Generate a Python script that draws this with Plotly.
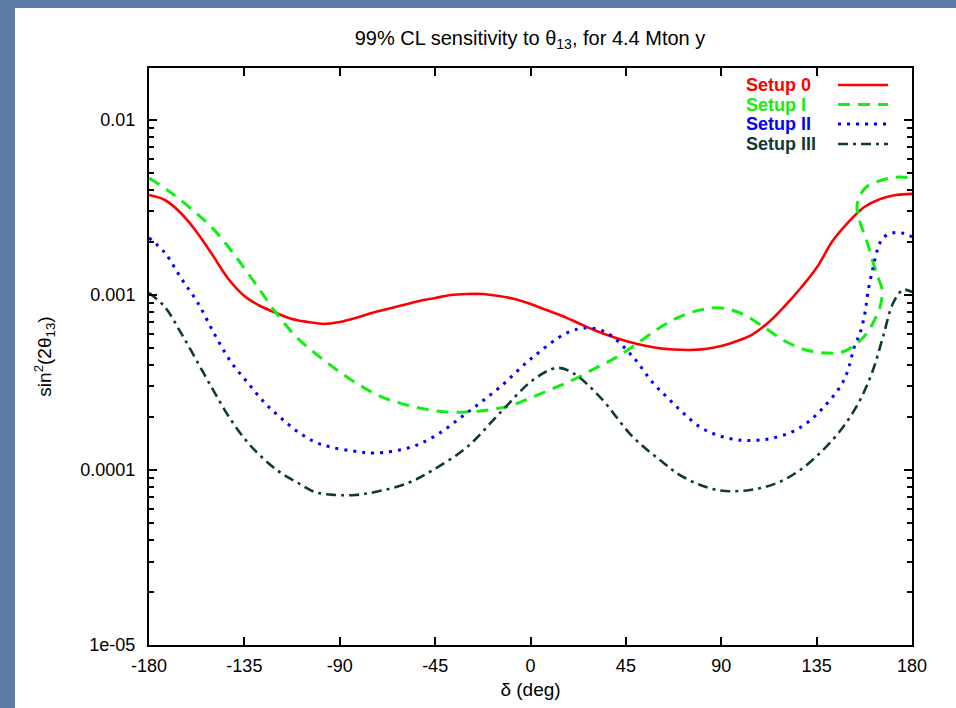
import plotly.graph_objects as go

# delta (deg) and sin^2(2 theta13) sensitivity values
s0_delta = [-180, -172.5, -165, -157.5, -150, -142.5, -135, -127.5, -120, -112.5, -105, -97.5,
            -90, -82.5, -75, -67.5, -60, -52.5, -45, -37.5, -30, -22.5, -15, -7.5, 0, 7.5, 15,
            22.5, 30, 37.5, 45, 52.5, 60, 67.5, 75, 82.5, 90, 97.5, 105, 112.5, 120, 127.5, 135,
            142.5, 150, 157.5, 165, 172.5, 180]
s0_val = [3.73e-3, 3.49e-3, 2.94e-3, 2.29e-3, 1.69e-3, 1.234e-3, 9.87e-4, 8.65e-4, 7.89e-4,
          7.29e-4, 7.01e-4, 6.83e-4, 7.01e-4, 7.39e-4, 7.89e-4, 8.32e-4, 8.77e-4, 9.24e-4,
          9.61e-4, 1.0e-3, 1.013e-3, 1.013e-3, 9.87e-4, 9.49e-4, 8.88e-4, 8.21e-4, 7.59e-4,
          6.92e-4, 6.31e-4, 5.83e-4, 5.46e-4, 5.18e-4, 4.98e-4, 4.88e-4, 4.85e-4, 4.91e-4,
          5.11e-4, 5.46e-4, 5.98e-4, 7.01e-4, 8.65e-4, 1.096e-3, 1.43e-3, 2.035e-3, 2.61e-3,
          3.18e-3, 3.54e-3, 3.73e-3, 3.78e-3]

s1_delta = [-180, -170, -160, -150, -140, -130, -120, -110, -100, -90, -80, -70, -60, -50, -40,
            -30, -20, -10, 0, 10, 20, 30, 40, 50, 60, 70, 80, 90, 100, 110, 120, 130, 140,
            147, 153.1, 158.8, 161.6, 164.9, 165.9, 164.1, 161.6, 158.8, 155.5, 154.1, 157.9,
            165.9, 173.4, 180]
s1_val = [4.66e-3, 3.88e-3, 3.10e-3, 2.41e-3, 1.715e-3, 1.17e-3, 7.89e-4, 5.68e-4, 4.48e-4,
          3.63e-4, 3.02e-4, 2.61e-4, 2.38e-4, 2.23e-4, 2.145e-4, 2.145e-4, 2.20e-4, 2.32e-4,
          2.58e-4, 2.90e-4, 3.27e-4, 3.78e-4, 4.37e-4, 5.25e-4, 6.39e-4, 7.48e-4, 8.21e-4,
          8.43e-4, 7.79e-4, 6.56e-4, 5.46e-4, 4.85e-4, 4.66e-4,
          4.72e-4, 5.18e-4, 6.07e-4, 6.92e-4, 8.53e-4, 1.07e-3, 1.25e-3, 1.54e-3, 2.01e-3,
          2.61e-3, 3.27e-3, 4.08e-3, 4.54e-3, 4.72e-3, 4.66e-3]

s2_delta = [-180, -172.5, -164.9, -156.9, -148.9, -141.3, -133.3, -125.3, -117.7, -109.7, -101.7,
            -94.1, -82.8, -73.4, -57.8, -46, -30, -14.4, 1.2, 17.2, 26.7, 36.1, 48.4, 57.8, 64.4,
            72, 80, 88, 98.9, 111.6, 122.4, 130.5, 138, 146, 149.3, 153.1, 155.5, 157.8, 159.2,
            161.6, 164, 166.3, 170.6, 175.3, 180]
s2_val = [2.12e-3, 1.74e-3, 1.25e-3, 9.0e-4, 5.91e-4, 4.14e-4, 3.14e-4, 2.41e-4, 1.98e-4, 1.65e-4,
          1.445e-4, 1.35e-4, 1.28e-4, 1.25e-4, 1.335e-4, 1.54e-4, 2.12e-4, 2.98e-4, 4.42e-4,
          6.07e-4, 6.48e-4, 6.07e-4, 4.42e-4, 3.14e-4, 2.61e-4, 2.12e-4, 1.76e-4, 1.585e-4,
          1.48e-4, 1.50e-4, 1.63e-4, 1.86e-4, 2.26e-4, 2.98e-4, 3.58e-4, 5.18e-4, 6.07e-4,
          7.89e-4, 1.04e-3, 1.43e-3, 1.86e-3, 2.12e-3, 2.26e-3, 2.26e-3, 2.15e-3]

s3_delta = [-180, -172.5, -164.9, -156.9, -148.9, -141.3, -133.3, -125.3, -117.7, -109.7, -101.7,
            -92.2, -82.8, -73.4, -57.8, -46, -30, -14.4, 1.2, 12.5, 20.1, 32.8, 48.4, 61.1, 72,
            88, 103.6, 116.3, 127.2, 138, 147.5, 155.5, 161.6, 166.3, 171.1, 175.8, 180]
s3_val = [1.03e-3, 8.54e-4, 6.07e-4, 4.09e-4, 2.75e-4, 1.93e-4, 1.43e-4, 1.14e-4, 9.61e-5, 8.43e-5,
          7.48e-5, 7.20e-5, 7.20e-5, 7.48e-5, 8.43e-5, 1.0e-4, 1.35e-4, 2.12e-4, 3.27e-4, 3.83e-4,
          3.58e-4, 2.61e-4, 1.54e-4, 1.14e-4, 9.12e-5, 7.69e-5, 7.69e-5, 8.43e-5, 1.0e-4, 1.30e-4,
          1.76e-4, 2.51e-4, 3.73e-4, 5.75e-4, 9.0e-4, 1.07e-3, 1.04e-3]

x_ticks = [-180, -135, -90, -45, 0, 45, 90, 135, 180]
y_ticks = [1e-5, 1e-4, 1e-3, 1e-2]
y_ticktext = ["1e-05", "0.0001", "0.001", "0.01"]
series_names = ["Setup 0", "Setup I", "Setup II", "Setup III"]
colors = ["#ff0000", "#11ee11", "#0000ff", "#0f3a36"]
dashes = ["solid", "12px,8px", "3px,6px", "10px,5px,3px,5px"]
widths = [2.6, 3, 3, 2.6]

fig = go.Figure()
data = [(s0_delta, s0_val), (s1_delta, s1_val), (s2_delta, s2_val), (s3_delta, s3_val)]
for (dx, dy), name, c, d, w in zip(data, series_names, colors, dashes, widths):
    fig.add_trace(go.Scatter(x=dx, y=dy, mode="lines", name=name,
                             line=dict(color=c, dash=d, width=w, shape="spline", smoothing=1.0),
                             showlegend=False))

W, H = 956, 708
L, R, T, B = 149, 44, 68, 63
pw, ph = W - L - R, H - T - B

def px_to_paper_x(px):
    return (px - L) / pw

def px_to_paper_y(py):
    return (H - B - py) / ph

# white slide panel
fig.add_shape(type="rect", xref="paper", yref="paper", layer="below",
              x0=px_to_paper_x(15), x1=px_to_paper_x(960),
              y0=px_to_paper_y(712), y1=px_to_paper_y(8),
              fillcolor="white", line=dict(width=0))

# gnuplot-style key: text then line sample
key_rows = [85, 104.5, 124, 144]
for name, c, d, w, ry in zip(series_names, colors, dashes, widths, key_rows):
    fig.add_annotation(xref="paper", yref="paper", x=px_to_paper_x(744), y=px_to_paper_y(ry),
                       text="<b>" + name + "</b>", showarrow=False, xanchor="left", yanchor="middle",
                       font=dict(family="Liberation Sans, Arial", size=18, color=c))
    fig.add_shape(type="line", xref="paper", yref="paper",
                  x0=px_to_paper_x(838), x1=px_to_paper_x(888),
                  y0=px_to_paper_y(ry), y1=px_to_paper_y(ry),
                  line=dict(color=c, dash=d, width=w))

minor_vals = [m * 10 ** e for e in range(-5, -1) for m in range(2, 10)]

fig.update_layout(
    width=W, height=H,
    margin=dict(l=L, r=R, t=T, b=B),
    paper_bgcolor="#5b7da8",
    plot_bgcolor="rgba(0,0,0,0)",
    font=dict(family="Liberation Sans, Arial", size=18, color="black"),
    title=dict(text="99% CL sensitivity to θ<sub>13</sub>, for 4.4 Mton y",
               x=px_to_paper_x(530), xref="paper", xanchor="center",
               y=1 - 38 / H, yref="container", yanchor="middle",
               font=dict(size=20, color="black")),
    xaxis=dict(range=[-180, 180], tickvals=x_ticks, ticktext=[str(v) for v in x_ticks],
               ticks="inside", ticklen=8, tickwidth=2, tickcolor="black",
               showline=True, linecolor="black", linewidth=2, mirror="ticks",
               showgrid=False, zeroline=False, ticklabelstandoff=3,
               title=dict(text="δ (deg)", standoff=8, font=dict(size=19))),
    yaxis=dict(type="log", range=[-5, -1.703], tickvals=y_ticks, ticktext=y_ticktext,
               ticks="inside", ticklen=8, tickwidth=2, tickcolor="black",
               showline=True, linecolor="black", linewidth=2, mirror="ticks",
               showgrid=False, zeroline=False, ticklabelstandoff=8,
               minor=dict(tickvals=minor_vals, ticks="inside", ticklen=5, tickwidth=2,
                          tickcolor="black", showgrid=False),
               title=dict(text="sin<sup>2</sup>(2θ<sub>13</sub>)", standoff=24, font=dict(size=19))),
)

fig.write_html("out.html")
